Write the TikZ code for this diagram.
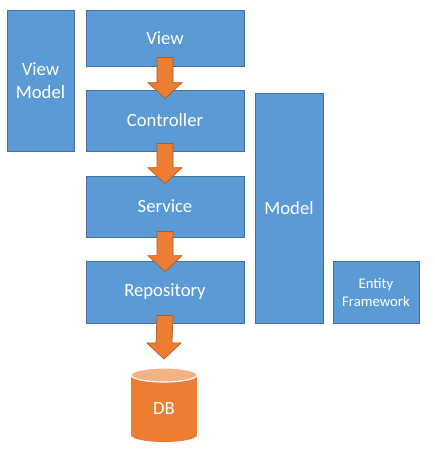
\documentclass[tikz,border=0pt]{standalone}
\usepackage{fontspec}
\setmainfont{Carlito}
\usetikzlibrary{calc}
\definecolor{boxblue}{HTML}{5B9BD5}
\definecolor{boxedge}{HTML}{41719C}
\definecolor{flowc}{HTML}{ED7D31}
\definecolor{flowedge}{HTML}{AE5A21}
\definecolor{dbtopc}{HTML}{F4B183}
\newcommand\flowarrow[2]{%
  \filldraw[flowarr] ($(#1)+(-8,0)$) -- ($(#2)+(-8,-16)$) -- ($(#2)+(-17,-16)$) -- (#2)
    -- ($(#2)+(17,-16)$) -- ($(#2)+(8,-16)$) -- ($(#1)+(8,0)$) -- cycle;}
\begin{document}
\begin{tikzpicture}[x=1pt,y=-1pt,
  box/.style={draw=boxedge, fill=boxblue, line width=0.8pt, text=white, inner sep=0pt,
    align=center, font=\fontsize{18.7}{22.8}\selectfont},
  smallbox/.style={box, font=\fontsize{14.7}{18}\selectfont},
  flowarr/.style={fill=flowc, draw=flowedge, line width=0.7pt, line join=miter},
  dblabel/.style={text=white, inner sep=0pt, font=\fontsize{18.7}{22.8}\selectfont}]
\fill[white] (0,0) rectangle (435,455);
\useasboundingbox (0,0) rectangle (435,455);
\node[box, minimum width=67pt, minimum height=141pt] (vm) at (40.5,80.5) {View\\Model};
\node[box, minimum width=158pt, minimum height=56pt] (view) at (165,38) {View};
\node[box, minimum width=158pt, minimum height=61pt] (ctrl) at (165,120.5) {Controller};
\node[box, minimum width=158pt, minimum height=61pt] (svc) at (165,206.5) {Service};
\node[box, minimum width=158pt, minimum height=62pt] (repo) at (165,292) {Repository};
\node[box, minimum width=68pt, minimum height=230pt] (model) at (289,208) {Model};
\node[smallbox, minimum width=86pt, minimum height=62pt] (ef) at (376,292) {Entity\\Framework};
% database cylinder
\fill[flowc] (131,375) rectangle (197,435);
\fill[flowc] (164,435) ellipse [x radius=33pt, y radius=7pt];
\filldraw[fill=dbtopc, draw=white, line width=1.2pt] (164,375) ellipse [x radius=33pt, y radius=7pt];
\node[dblabel] (db) at (164,408) {DB};
\coordinate (dbtop) at (164,368);
% arrows
\coordinate (s1) at ($(view.south)+(0,-9)$);
\coordinate (t1) at ($(ctrl.north)+(0,9)$);
\coordinate (s2) at ($(ctrl.south)+(0,-8)$);
\coordinate (t2) at ($(svc.north)+(0,8)$);
\coordinate (s3) at ($(svc.south)+(0,-6)$);
\coordinate (t3) at ($(repo.north)+(0,11)$);
\coordinate (s4) at ($(repo.south)+(0,-8)$);
\coordinate (t4) at ($(dbtop)+(0,-9)$);
\flowarrow{s1}{t1}
\flowarrow{s2}{t2}
\flowarrow{s3}{t3}
\flowarrow{s4}{t4}
\end{tikzpicture}
\end{document}
